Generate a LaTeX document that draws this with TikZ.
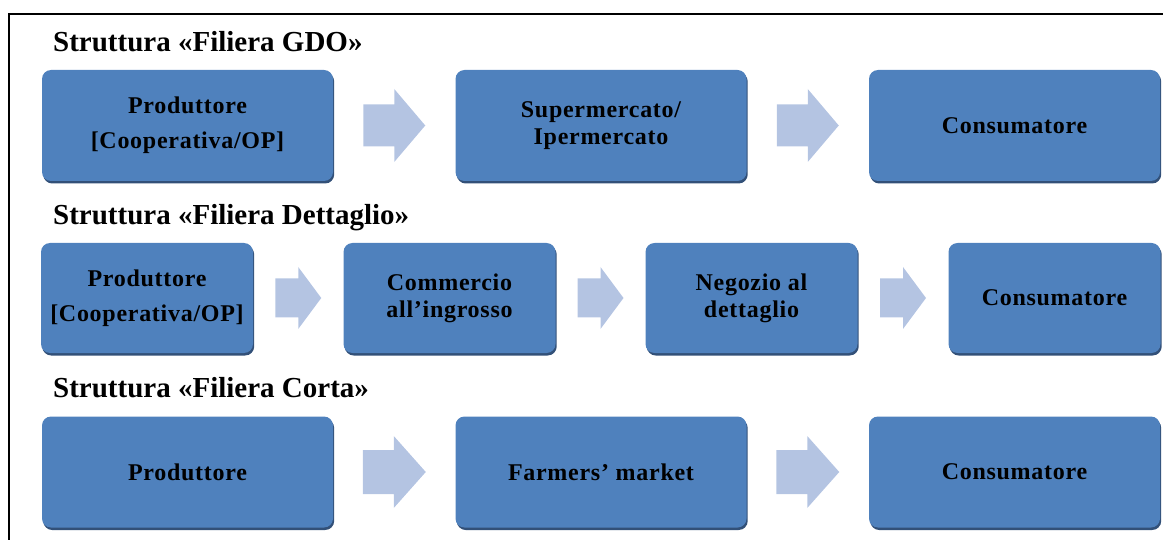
\documentclass[tikz,border=0pt]{standalone}
\usepackage{fontspec}
\setmainfont{Liberation Serif}
\usepackage{tikz}
\usetikzlibrary{calc}
\usetikzlibrary{shadows}

\definecolor{boxblue}{RGB}{79,129,189}
\definecolor{boxshade}{RGB}{50,80,120}
\definecolor{arrowblue}{RGB}{180,196,226}

\tikzset{
	fase/.style={draw=none, fill=boxblue, rounded corners=9pt, align=center, inner sep=2pt,
		font=\fontsize{24}{27}\selectfont\bfseries\addfontfeature{LetterSpace=3},
		drop shadow={shadow xshift=1.2pt, shadow yshift=-2.5pt, fill=boxshade, opacity=1}},
	grande/.style={fase, minimum width=291pt, minimum height=111pt},
	piccola/.style={fase, minimum width=212pt, minimum height=110pt},
	titolo/.style={anchor=base west, inner sep=0pt, font=\fontsize{29}{33}\selectfont\bfseries},
	freccia/.style={fill=arrowblue, draw=none}
}

% freccia piena tra due blocchi
% #1,#2: blocchi; #3: mezza lunghezza; #4: mezzo fusto; #5: mezza punta; #6: lunghezza punta
\newcommand{\passaggio}[6]{%
	\fill[freccia, shift={($(#1.east)!0.5!(#2.west)$)}]
		(-#3,-#4) -- (#3-#6,-#4) -- (#3-#6,-#5) -- (#3,0) -- (#3-#6,#5) -- (#3-#6,#4) -- (-#3,#4) -- cycle;}

\begin{document}
\begin{tikzpicture}[x=1pt,y=-1pt]
	\useasboundingbox (0,0) rectangle (1163,540);
	% cornice
	\draw[line width=2pt] (9,540) -- (9,14) -- (1163,14);

	% Filiera GDO
	% ----------
	\node[titolo] (tGDO) at (53,52) {Struttura «Filiera GDO»};
	\node[grande] (prodA) at (187.5,125.5) {Produttore\\[8pt]{[}Cooperativa/OP{]}};
	\node[grande] (superA) at (601,125.5) {Supermercato/\\Ipermercato};
	\node[grande] (consA) at (1014.5,125.5) {Consumatore};
	\passaggio{prodA}{superA}{31}{21}{36.5}{31}
	\passaggio{superA}{consA}{31}{21}{36.5}{31}

	% Filiera Dettaglio
	% ----------
	\node[titolo] (tDet) at (53,225) {Struttura «Filiera Dettaglio»};
	\node[piccola] (prodB) at (147,298) {Produttore\\[8pt]{[}Cooperativa/OP{]}};
	\node[piccola] (ingrB) at (449.5,298) {Commercio\\all’ingrosso};
	\node[piccola] (negB) at (751.5,298) {Negozio al\\dettaglio};
	\node[piccola] (consB) at (1054.5,298) {Consumatore};
	\passaggio{prodB}{ingrB}{23}{19.5}{31}{23}
	\passaggio{ingrB}{negB}{23}{19.5}{31}{23}
	\passaggio{negB}{consB}{23}{19.5}{31}{23}

	% Filiera Corta
	% ----------
	\node[titolo] (tCor) at (53,397) {Struttura «Filiera Corta»};
	\node[grande] (prodC) at (187.5,472) {Produttore};
	\node[grande] (farmC) at (601,472) {Farmers’ market};
	\node[grande] (consC) at (1014.5,472) {Consumatore};
	\passaggio{prodC}{farmC}{31.5}{22}{36}{32}
	\passaggio{farmC}{consC}{31.5}{22}{36}{32}
\end{tikzpicture}
\end{document}
